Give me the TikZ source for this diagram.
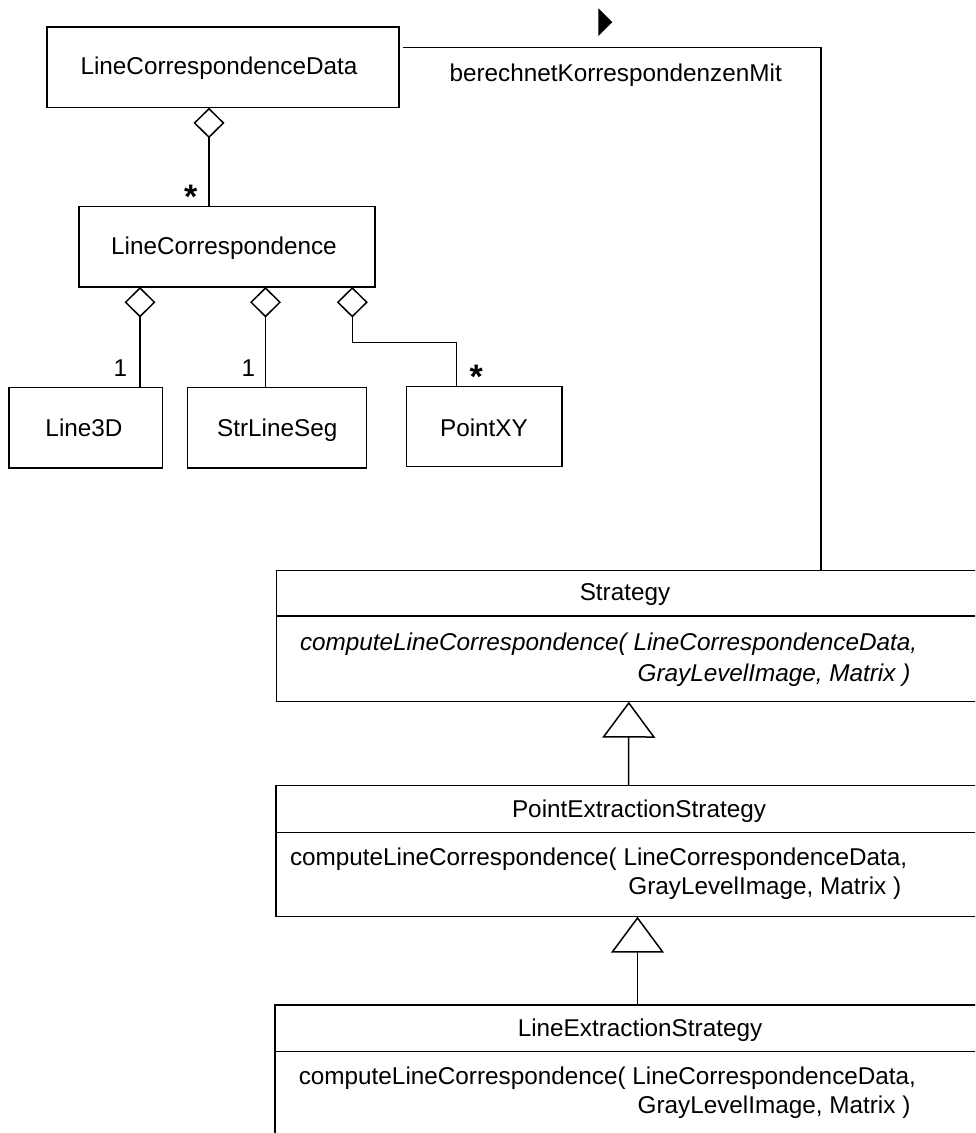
\documentclass[tikz,border=0pt]{standalone}
\usepackage{fontspec}
\setmainfont{Liberation Sans}
\usetikzlibrary{arrows.meta}
\begin{document}
\begin{tikzpicture}[x=1pt,y=-1pt,
  line width=1.5pt,
  every node/.style={inner sep=0pt, outer sep=0pt, font=\fontsize{24.3}{29}\selectfont},
  cls/.style={draw, rectangle, anchor=north west},
  lbl/.style={anchor=base},
  meth/.style={anchor=base west},
  amethod/.style={anchor=base west, font=\fontsize{24.3}{29}\selectfont\itshape},
  mult/.style={anchor=base},
  many/.style={anchor=base, font=\fontsize{34}{40}\selectfont\bfseries},
  aggr/.style={{Diamond[open,length=30.5pt,width=31pt]}-},
  gen/.style={-{Triangle[open,length=36pt,width=53pt]}},
]
\useasboundingbox (0,0) rectangle (975,1133);
\clip (0,0) rectangle (975,1133);

% --- class boxes ---
\node[cls, minimum width=352pt, minimum height=80.7pt] (lcd) at (47,27) {};
\node[lbl] (lcdname) at (219,74) {LineCorrespondenceData};

\node[cls, minimum width=296pt, minimum height=80.3pt] (lc) at (79,206.7) {};
\node[lbl] (lcname) at (224,254) {LineCorrespondence};

\node[cls, minimum width=153.3pt, minimum height=80.7pt] (line3d) at (9,387.3) {};
\node[lbl] (line3dname) at (84,436.5) {Line3D};

\node[cls, minimum width=179pt, minimum height=80.7pt] (strlineseg) at (187.7,387.3) {};
\node[lbl] (strlinesegname) at (277.2,436.5) {StrLineSeg};

\node[cls, minimum width=155.3pt, minimum height=80pt] (pointxy) at (406.7,386.7) {};
\node[lbl] (pointxyname) at (484,436) {PointXY};

% strategy hierarchy (boxes run past the right edge)
\node[cls, minimum width=720pt, minimum height=131pt] (strategy) at (276.7,570.7) {};
\draw ([yshift=-45.3pt]strategy.north west) -- ([yshift=-45.3pt]strategy.north east);
\node[lbl] (strategyname) at (625,600) {Strategy};
\node[amethod] (strategyop1) at (300,650) {computeLineCorrespondence( LineCorrespondenceData,};
\node[amethod] (strategyop2) at (637.6,681) {GrayLevelImage, Matrix )};

\node[cls, minimum width=720pt, minimum height=131pt] (pes) at (276,785.7) {};
\draw ([yshift=-46.6pt]pes.north west) -- ([yshift=-46.6pt]pes.north east);
\node[lbl] (pesname) at (639,817.7) {PointExtractionStrategy};
\node[meth] (pesop1) at (290,865) {computeLineCorrespondence( LineCorrespondenceData,};
\node[meth] (pesop2) at (628.4,894) {GrayLevelImage, Matrix )};

\node[cls, minimum width=720pt, minimum height=200pt] (les) at (275,1005) {};
\draw ([yshift=-46.5pt]les.north west) -- ([yshift=-46.5pt]les.north east);
\node[lbl] (lesname) at (640,1036.5) {LineExtractionStrategy};
\node[meth] (lesop1) at (298.8,1084.3) {computeLineCorrespondence( LineCorrespondenceData,};
\node[meth] (lesop2) at (637.6,1113.5) {GrayLevelImage, Matrix )};

% --- aggregations ---
\draw[aggr] ([xshift=162pt]lcd.south west) -- ([xshift=130pt]lc.north west);
\node[many] (m1) at (190.8,208) {*};

\draw[aggr] ([xshift=61pt]lc.south west) -- ([xshift=131pt]line3d.north west);
\node[mult] (m2) at (120.3,376.7) {1};

\draw[aggr] ([xshift=186.5pt]lc.south west) -- ([xshift=77.8pt]strlineseg.north west);
\node[mult] (m3) at (248.5,376.7) {1};

\draw[aggr] ([xshift=273.3pt]lc.south west) -- ++(0,55.3) -| ([xshift=50pt]pointxy.north west);
\node[many] (m4) at (476.3,388.3) {*};

% --- association with reading direction ---
\draw ([shift={(3.5pt,-20.3pt)}]lcd.north east) -| ([xshift=544.3pt]strategy.north west);
\fill (598.3,8.3) -- (612.3,22.2) -- (598.3,36) -- cycle;
\node[meth] (assocname) at (449.5,81) {berechnetKorrespondenzenMit};

% --- generalizations ---
\draw[gen] ([xshift=352.6pt]pes.north west) -- ([xshift=352.1pt]strategy.south west);
\draw[gen] ([xshift=362.5pt]les.north west) -- ([xshift=361.5pt]pes.south west);
\end{tikzpicture}
\end{document}
